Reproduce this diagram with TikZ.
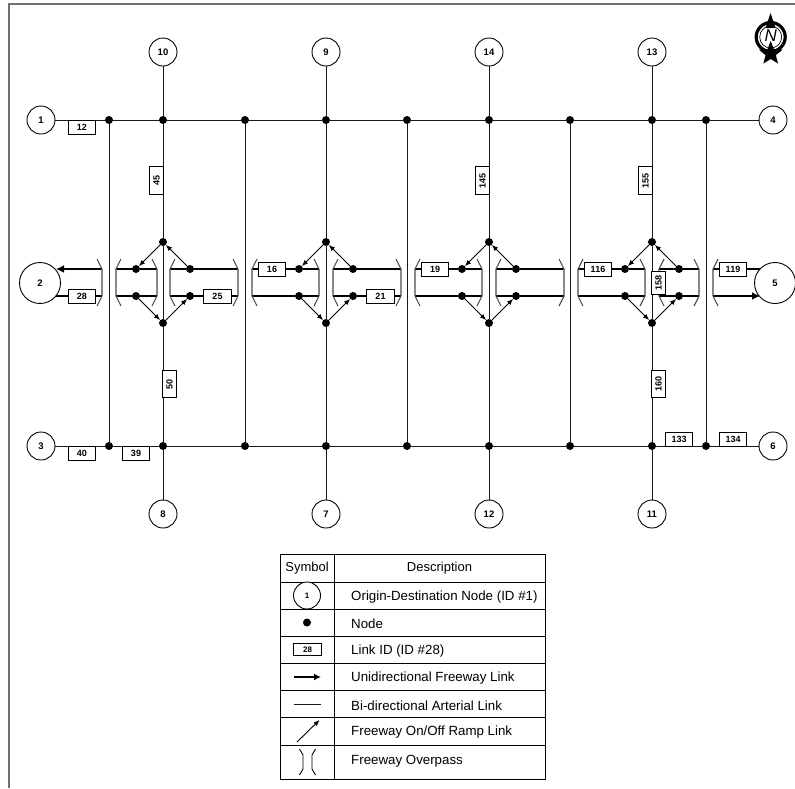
\documentclass[tikz,border=0pt]{standalone}
\usepackage{fontspec}
\setmainfont{Liberation Sans}
\usetikzlibrary{arrows.meta,shapes.geometric}
\definecolor{roadInk}{HTML}{1A1A1A}
\definecolor{frameGrey}{HTML}{707070}
\definecolor{overGrey}{HTML}{4A4A4A}
\begin{document}
\begin{tikzpicture}[x=1pt,y=-1pt,>=Latex,line join=miter]
\useasboundingbox[fill=white] (0,0) rectangle (795,788);
\tikzset{odnode/.style={draw=black,fill=white,circle,line width=0.9pt,minimum size=28pt,inner sep=0pt,font=\fontsize{9.5}{9.5}\selectfont\bfseries},
 bignode/.style={odnode,minimum size=41pt},
 dotnode/.style={fill=black,circle,minimum size=8pt,inner sep=0pt},
 linkid/.style={draw=black,fill=white,line width=0.8pt,minimum width=27.5pt,minimum height=14pt,inner sep=0pt,font=\fontsize{9}{9}\selectfont\bfseries},
 arterial/.style={draw=roadInk,line width=0.9pt},
 freeway/.style={draw=black,line width=2pt},
 ramp/.style={draw=black,line width=0.9pt,-{Latex[length=6pt,width=5pt]}},
 overpass/.style={draw=overGrey,line width=1.1pt},
 legendtext/.style={anchor=west,font=\fontsize{13.3}{13.3}\selectfont}}
\draw[frameGrey,line width=1.8pt] (9,788) -- (9,4) -- (795,4);
% junctions on the two arterials
\node[dotnode] (jt1) at (109,120) {}; \node[dotnode] (jt2) at (163,120) {}; \node[dotnode] (jt3) at (245,120) {};
\node[dotnode] (jt4) at (326,120) {}; \node[dotnode] (jt5) at (407,120) {}; \node[dotnode] (jt6) at (489,120) {};
\node[dotnode] (jt7) at (570,120) {}; \node[dotnode] (jt8) at (652,120) {}; \node[dotnode] (jt9) at (706,120) {};
\node[dotnode] (jb1) at (109,446) {}; \node[dotnode] (jb2) at (163,446) {}; \node[dotnode] (jb3) at (245,446) {};
\node[dotnode] (jb4) at (326,446) {}; \node[dotnode] (jb5) at (407,446) {}; \node[dotnode] (jb6) at (489,446) {};
\node[dotnode] (jb7) at (570,446) {}; \node[dotnode] (jb8) at (652,446) {}; \node[dotnode] (jb9) at (706,446) {};
% interchanges
\node[dotnode] (upA) at (163,242) {}; \node[dotnode] (dnA) at (163,323) {};
\node[dotnode] (ulA) at (136,269) {}; \node[dotnode] (urA) at (190,269) {}; \node[dotnode] (llA) at (136,296) {}; \node[dotnode] (lrA) at (190,296) {};
\node[dotnode] (upB) at (326,242) {}; \node[dotnode] (dnB) at (326,323) {};
\node[dotnode] (ulB) at (299,269) {}; \node[dotnode] (urB) at (353,269) {}; \node[dotnode] (llB) at (299,296) {}; \node[dotnode] (lrB) at (353,296) {};
\node[dotnode] (upC) at (489,242) {}; \node[dotnode] (dnC) at (489,323) {};
\node[dotnode] (ulC) at (462,269) {}; \node[dotnode] (urC) at (516,269) {}; \node[dotnode] (llC) at (462,296) {}; \node[dotnode] (lrC) at (516,296) {};
\node[dotnode] (upD) at (652,242) {}; \node[dotnode] (dnD) at (652,323) {};
\node[dotnode] (ulD) at (625,269) {}; \node[dotnode] (urD) at (679,269) {}; \node[dotnode] (llD) at (625,296) {}; \node[dotnode] (lrD) at (679,296) {};
% origin-destination nodes
\node[odnode] (od1) at (41,120) {1}; \node[odnode] (od3) at (41,446) {3}; \node[odnode] (od4) at (773,120) {4}; \node[odnode] (od6) at (773,446) {6};
\node[odnode] (od10) at (163,52) {10}; \node[odnode] (od9) at (326,52) {9}; \node[odnode] (od14) at (489,52) {14}; \node[odnode] (od13) at (652,52) {13};
\node[odnode] (od8) at (163,514) {8}; \node[odnode] (od7) at (326,514) {7}; \node[odnode] (od12) at (489,514) {12}; \node[odnode] (od11) at (652,514) {11};
% overpass ends of the freeway pieces
\coordinate (fu102) at (102,269); \coordinate (fl102) at (102,296); \coordinate (fu116) at (116,269); \coordinate (fl116) at (116,296);
\coordinate (fu157) at (157,269); \coordinate (fl157) at (157,296); \coordinate (fu170) at (170,269); \coordinate (fl170) at (170,296);
\coordinate (fu238) at (238,269); \coordinate (fl238) at (238,296); \coordinate (fu252) at (252,269); \coordinate (fl252) at (252,296);
\coordinate (fu319) at (319,269); \coordinate (fl319) at (319,296); \coordinate (fu333) at (333,269); \coordinate (fl333) at (333,296);
\coordinate (fu401) at (401,269); \coordinate (fl401) at (401,296); \coordinate (fu415) at (415,269); \coordinate (fl415) at (415,296);
\coordinate (fu482) at (482,269); \coordinate (fl482) at (482,296); \coordinate (fu496) at (496,269); \coordinate (fl496) at (496,296);
\coordinate (fu564) at (564,269); \coordinate (fl564) at (564,296); \coordinate (fu578) at (578,269); \coordinate (fl578) at (578,296);
\coordinate (fu645) at (645,269); \coordinate (fl645) at (645,296); \coordinate (fu659) at (659,269); \coordinate (fl659) at (659,296);
\coordinate (fu699) at (699,269); \coordinate (fl699) at (699,296); \coordinate (fu713) at (713,269); \coordinate (fl713) at (713,296);
\coordinate (tipW) at (56,269); \coordinate (endW) at (55,296); \coordinate (endE) at (760,269); \coordinate (tipE) at (760,296);
% arterials
\draw[arterial] (od1) -- (jt1) -- (jt2) -- (jt3) -- (jt4) -- (jt5) -- (jt6) -- (jt7) -- (jt8) -- (jt9) -- (od4);
\draw[arterial] (od3) -- (jb1) -- (jb2) -- (jb3) -- (jb4) -- (jb5) -- (jb6) -- (jb7) -- (jb8) -- (jb9) -- (od6);
\draw[arterial] (jt1) -- (jb1); \draw[arterial] (jt3) -- (jb3); \draw[arterial] (jt5) -- (jb5); \draw[arterial] (jt7) -- (jb7); \draw[arterial] (jt9) -- (jb9);
\draw[arterial] (od10) -- (jt2) -- (upA) -- (dnA) -- (jb2) -- (od8);
\draw[arterial] (od9) -- (jt4) -- (upB) -- (dnB) -- (jb4) -- (od7);
\draw[arterial] (od14) -- (jt6) -- (upC) -- (dnC) -- (jb6) -- (od12);
\draw[arterial] (od13) -- (jt8) -- (upD) -- (dnD) -- (jb8) -- (od11);
% freeway
\draw[freeway,-{Latex[length=8pt,width=8pt]}] (fu102) -- (tipW); \draw[freeway] (fl102) -- (endW);
\draw[freeway] (fu116) -- (ulA) -- (fu157); \draw[freeway] (fl116) -- (llA) -- (fl157);
\draw[freeway] (fu170) -- (urA) -- (fu238); \draw[freeway] (fl170) -- (lrA) -- (fl238);
\draw[freeway] (fu252) -- (ulB) -- (fu319); \draw[freeway] (fl252) -- (llB) -- (fl319);
\draw[freeway] (fu333) -- (urB) -- (fu401); \draw[freeway] (fl333) -- (lrB) -- (fl401);
\draw[freeway] (fu415) -- (ulC) -- (fu482); \draw[freeway] (fl415) -- (llC) -- (fl482);
\draw[freeway] (fu496) -- (urC) -- (fu564); \draw[freeway] (fl496) -- (lrC) -- (fl564);
\draw[freeway] (fu578) -- (ulD) -- (fu645); \draw[freeway] (fl578) -- (llD) -- (fl645);
\draw[freeway] (fu659) -- (urD) -- (fu699); \draw[freeway] (fl659) -- (lrD) -- (fl699);
\draw[freeway] (fu713) -- (endE); \draw[freeway,-{Latex[length=8pt,width=8pt]}] (fl713) -- (tipE);
% overpass brackets
\draw[overpass] (fu102) ++(-5,-10) -- (fu102) -- (fl102) -- ++(-5,10); \draw[overpass] (fu116) ++(5,-10) -- (fu116) -- (fl116) -- ++(5,10);
\draw[overpass] (fu157) ++(-5,-10) -- (fu157) -- (fl157) -- ++(-5,10); \draw[overpass] (fu170) ++(5,-10) -- (fu170) -- (fl170) -- ++(5,10);
\draw[overpass] (fu238) ++(-5,-10) -- (fu238) -- (fl238) -- ++(-5,10); \draw[overpass] (fu252) ++(5,-10) -- (fu252) -- (fl252) -- ++(5,10);
\draw[overpass] (fu319) ++(-5,-10) -- (fu319) -- (fl319) -- ++(-5,10); \draw[overpass] (fu333) ++(5,-10) -- (fu333) -- (fl333) -- ++(5,10);
\draw[overpass] (fu401) ++(-5,-10) -- (fu401) -- (fl401) -- ++(-5,10); \draw[overpass] (fu415) ++(5,-10) -- (fu415) -- (fl415) -- ++(5,10);
\draw[overpass] (fu482) ++(-5,-10) -- (fu482) -- (fl482) -- ++(-5,10); \draw[overpass] (fu496) ++(5,-10) -- (fu496) -- (fl496) -- ++(5,10);
\draw[overpass] (fu564) ++(-5,-10) -- (fu564) -- (fl564) -- ++(-5,10); \draw[overpass] (fu578) ++(5,-10) -- (fu578) -- (fl578) -- ++(5,10);
\draw[overpass] (fu645) ++(-5,-10) -- (fu645) -- (fl645) -- ++(-5,10); \draw[overpass] (fu659) ++(5,-10) -- (fu659) -- (fl659) -- ++(5,10);
\draw[overpass] (fu699) ++(-5,-10) -- (fu699) -- (fl699) -- ++(-5,10); \draw[overpass] (fu713) ++(5,-10) -- (fu713) -- (fl713) -- ++(5,10);
% ramps
\draw[ramp] (upA) -- (ulA); \draw[ramp] (urA) -- (upA); \draw[ramp] (llA) -- (dnA); \draw[ramp] (dnA) -- (lrA);
\draw[ramp] (upB) -- (ulB); \draw[ramp] (urB) -- (upB); \draw[ramp] (llB) -- (dnB); \draw[ramp] (dnB) -- (lrB);
\draw[ramp] (upC) -- (ulC); \draw[ramp] (urC) -- (upC); \draw[ramp] (llC) -- (dnC); \draw[ramp] (dnC) -- (lrC);
\draw[ramp] (upD) -- (ulD); \draw[ramp] (urD) -- (upD); \draw[ramp] (llD) -- (dnD); \draw[ramp] (dnD) -- (lrD);
\node[bignode] (od2) at (40,283) {2}; \node[bignode] (od5) at (775,283) {5};
% link ids
\node[linkid] (id12) at (82,127) {12}; \node[linkid] (id40) at (82,453) {40}; \node[linkid] (id39) at (136,453) {39};
\node[linkid] (id28) at (82,296) {28}; \node[linkid] (id25) at (217.5,296) {25}; \node[linkid] (id16) at (272,269) {16}; \node[linkid] (id21) at (380.5,296) {21};
\node[linkid] (id19) at (435,269) {19}; \node[linkid] (id116) at (598,269) {116}; \node[linkid] (id119) at (733,269) {119};
\node[linkid] (id133) at (679,439) {133}; \node[linkid] (id134) at (733,439) {134};
\node[linkid,rotate=90] (id45) at (156.5,180.5) {45}; \node[linkid,rotate=90] (id145) at (482.5,180.5) {145}; \node[linkid,rotate=90] (id155) at (645.5,180.5) {155};
\node[linkid,rotate=90] (id50) at (169.5,384) {50}; \node[linkid,rotate=90] (id160) at (658.5,384) {160};
\node[linkid,rotate=90,minimum width=23pt] (id158) at (658.5,283) {158};
% north arrow
\draw[black,line width=3.2pt] (770.7,37) circle (14.5); \draw[black,line width=0.7pt] (770.7,37) circle (11);
\path[fill=black] (770.5,13) -- (775.5,28) -- (765.5,28) -- cycle;
\node[star,star points=5,star point ratio=2.3,fill=black,minimum size=25pt,inner sep=0pt] (northstar) at (770.7,53.5) {};
\node[font=\fontsize{17}{17}\selectfont\itshape] (northletter) at (770.7,36) {N};
% legend
\draw[black,line width=0.9pt] (280,554) rectangle (545,779);
\draw[black,line width=0.9pt] (334,554) -- (334,779);
\draw[black,line width=0.9pt] (280,582) -- (545,582); \draw[black,line width=0.9pt] (280,609) -- (545,609); \draw[black,line width=0.9pt] (280,636) -- (545,636);
\draw[black,line width=0.9pt] (280,663) -- (545,663); \draw[black,line width=0.9pt] (280,690) -- (545,690); \draw[black,line width=0.9pt] (280,717) -- (545,717); \draw[black,line width=0.9pt] (280,745) -- (545,745);
\node[font=\fontsize{13}{13}\selectfont] (headsym) at (307,568.5) {Symbol}; \node[font=\fontsize{13}{13}\selectfont] (headdesc) at (439.5,568.5) {Description};
\node[odnode,minimum size=27pt,font=\fontsize{8}{8}\selectfont\bfseries] (keyod) at (307,595.5) {1};
\node[dotnode] (keydot) at (307,622.5) {};
\node[linkid,minimum height=12pt,font=\fontsize{8}{8}\selectfont\bfseries] (keyid) at (307.5,649.5) {28};
\coordinate (keyfa) at (293.5,677); \coordinate (keyfb) at (321,677); \draw[freeway,-{Latex[length=7pt,width=7pt]}] (keyfa) -- (keyfb);
\coordinate (keyaa) at (294,704); \coordinate (keyab) at (321,704); \draw[arterial] (keyaa) -- (keyab);
\coordinate (keyra) at (297,742); \coordinate (keyrb) at (319.5,720); \draw[ramp] (keyra) -- (keyrb);
\coordinate (keyou) at (303,755); \coordinate (keyol) at (303,769); \coordinate (keypu) at (312,755); \coordinate (keypl) at (312,769);
\draw[overpass,draw=black,line width=0.9pt] (keyou) ++(-3.5,-6) -- (keyou) -- (keyol) -- ++(-3.5,6); \draw[overpass,draw=black,line width=0.9pt] (keypu) ++(3.5,-6) -- (keypu) -- (keypl) -- ++(3.5,6);
\node[legendtext] (txtod) at (347.7,596.8) {Origin-Destination Node (ID \#1)};
\node[legendtext] (txtdot) at (347.7,623.3) {Node};
\node[legendtext] (txtid) at (347.7,650.8) {Link ID (ID \#28)};
\node[legendtext] (txtfw) at (347.7,677.8) {Unidirectional Freeway Link};
\node[legendtext] (txtar) at (347.7,705.3) {Bi-directional Arterial Link};
\node[legendtext] (txtra) at (347.7,732.5) {Freeway On/Off Ramp Link};
\node[legendtext] (txtov) at (347.7,761.3) {Freeway Overpass};
\end{tikzpicture}
\end{document}
